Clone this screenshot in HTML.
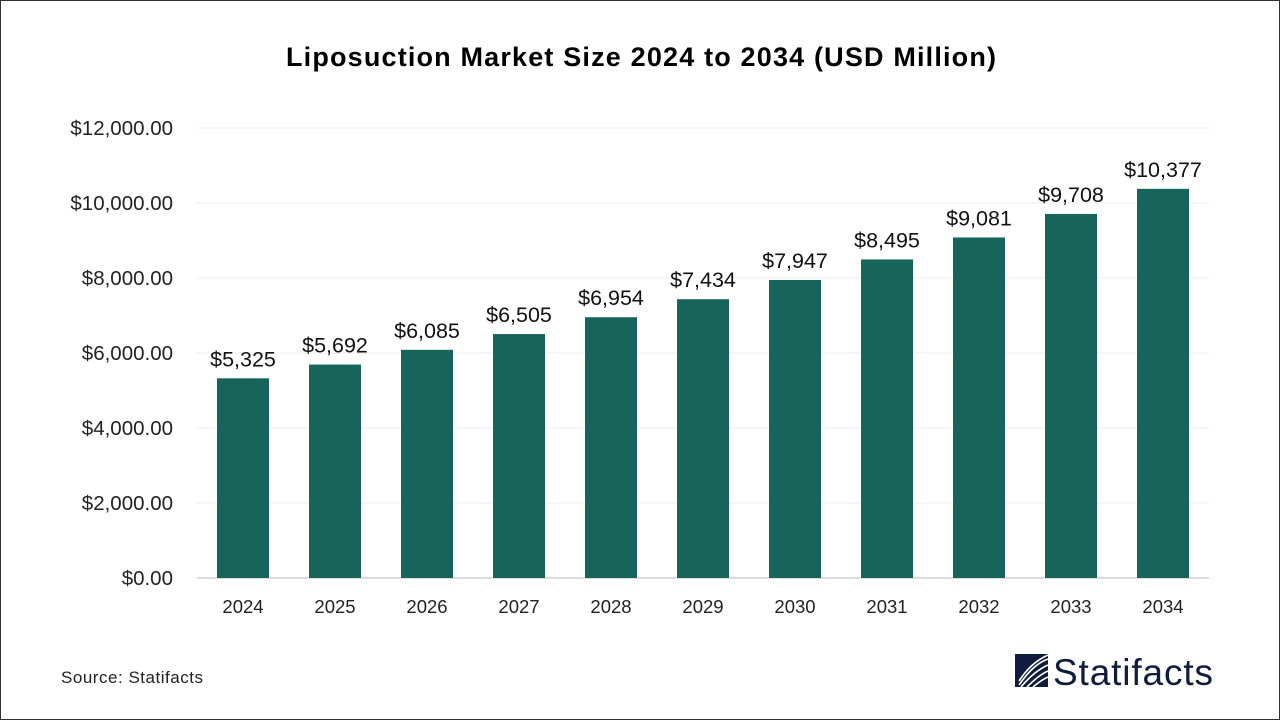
<!DOCTYPE html>
<html><head><meta charset="utf-8"><style>
html,body{margin:0;padding:0;background:#fff}
#wrap{position:relative;width:1278px;height:718px;border:1px solid #333;overflow:hidden;font-family:"Liberation Sans",sans-serif}
</style></head><body>
<div id="wrap">
<svg id="chart" width="1278" height="718">
<text x="640" y="65" text-anchor="middle" font-size="27" font-weight="bold" fill="#000" textLength="710">Liposuction Market Size 2024 to 2034 (USD Million)</text>
<g id="grid"></g><g id="bars"></g><g id="labels"></g>
<text x="60" y="682" font-size="17" fill="#222" textLength="142">Source: Statifacts</text>
<g>
<rect x="1014" y="653" width="33" height="33" fill="#0f1c3d"/>
<path d="M1018,684 C1028,670 1036,662 1047,658 M1018,680 C1026,668 1034,660 1047,654 M1020,686 C1030,674 1038,668 1047,664 M1026,686 C1034,678 1040,673 1047,670 M1032,686 C1038,681 1042,678 1047,676" stroke="#fff" stroke-width="1.6" fill="none"/>
<text x="1052" y="684" font-size="37" fill="#0f1c3d" textLength="160">Statifacts</text>
</g>
</svg>
</div>
<script>
const categories=["2024","2025","2026","2027","2028","2029","2030","2031","2032","2033","2034"];
const values=[5325,5692,6085,6505,6954,7434,7947,8495,9081,9708,10377];
const valueLabels=["$5,325","$5,692","$6,085","$6,505","$6,954","$7,434","$7,947","$8,495","$9,081","$9,708","$10,377"];
const yTicks=[0,2000,4000,6000,8000,10000,12000];
const yTickLabels=["$0.00","$2,000.00","$4,000.00","$6,000.00","$8,000.00","$10,000.00","$12,000.00"];
const NS="http://www.w3.org/2000/svg";
const x0=196,x1=1208,yBase=577,yTop=127,yMax=12000;
const y=v=>yBase-(v/yMax)*(yBase-yTop);
const step=(x1-x0)/categories.length;
const xc=i=>x0+step*(i+0.5);
const bw=52;
function mk(t,a,p){const e=document.createElementNS(NS,t);for(const k in a)e.setAttribute(k,a[k]);p.appendChild(e);return e;}
const grid=document.getElementById('grid'),bars=document.getElementById('bars'),labels=document.getElementById('labels');
yTicks.forEach((v,i)=>{
 const l=mk('line',{x1:x0,x2:x1,y1:y(v),y2:y(v),stroke:v===0?'#bbb':'#eee','stroke-width':1},grid);
 
 
 const t=mk('text',{x:172,y:y(v)+7,'text-anchor':'end','font-size':20.5,fill:'#222'},grid);
 t.textContent=yTickLabels[i];
 
 
});
categories.forEach((c,i)=>{
 const r=mk('rect',{x:xc(i)-bw/2,y:y(values[i]),width:bw,height:yBase-y(values[i]),fill:'#17645a'},bars);
 
 
 const t=mk('text',{x:xc(i),y:y(values[i])-12,'text-anchor':'middle','font-size':21.5,fill:'#111'},labels);
 t.textContent=valueLabels[i];
 
 
 const xt=mk('text',{x:xc(i),y:612,'text-anchor':'middle','font-size':18.5,fill:'#222'},labels);
 xt.textContent=c;
 
 
});
</script>
</body></html>
